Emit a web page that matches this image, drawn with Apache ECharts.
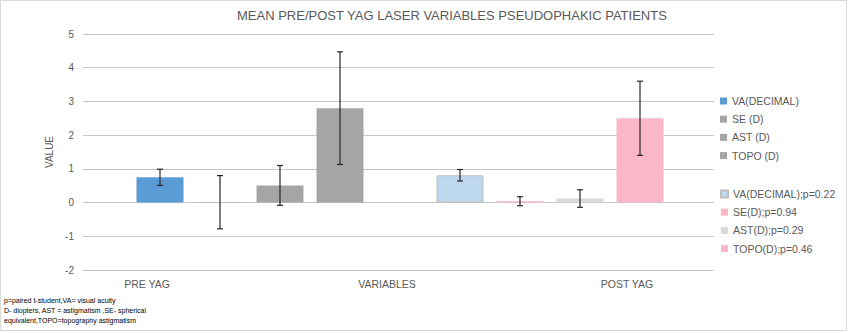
<!DOCTYPE html>
<html>
<head>
<meta charset="utf-8">
<script src="https://cdn.jsdelivr.net/npm/echarts@6/dist/echarts.min.js"></script>
<style>
html,body{margin:0;padding:0;background:#fff;}
#chart{width:849px;height:333px;}
</style>
</head>
<body>
<div id="chart"></div>
<script>
// ---- data ----
const titleText = 'MEAN PRE/POST YAG LASER VARIABLES PSEUDOPHAKIC PATIENTS';
const xCategories = ['PRE YAG', 'VARIABLES', 'POST YAG'];
const barSlots = ['VA pre', 'SE pre', 'AST pre', 'TOPO pre', '', 'VA post', 'SE post', 'AST post', 'TOPO post'];
const seriesNames = ['VA(DECIMAL)', 'SE (D)', 'AST (D)', 'TOPO (D)',
  'VA(DECIMAL);p=0.22', 'SE(D);p=0.94', 'AST(D);p=0.29', 'TOPO(D);p=0.46'];
const seriesSlot = ['VA pre', 'SE pre', 'AST pre', 'TOPO pre', 'VA post', 'SE post', 'AST post', 'TOPO post'];
const meanValues = [0.75, 0.01, 0.51, 2.80, 0.81, 0.04, 0.12, 2.50];
const errValues = [0.24, 0.79, 0.59, 1.67, 0.17, 0.135, 0.26, 1.10];
const yTicks = { min: -2, max: 5, interval: 1 };
const yName = 'VALUE';
const footnote = ['p=paired t-student,VA= visual acuity',
  'D- diopters, AST = astigmatism ,SE- spherical',
  'equivalent,TOPO=topography astigmatism'];

// ---- styles ----
const colors = ['#5B9BD5', '#A5A5A5', '#A5A5A5', '#A5A5A5', '#BDD7EE', '#F9B7C9', '#D9D9D9', '#F9B7C9'];
const borders = [null, null, null, null, '#BFBFBF', null, null, null];
const txt = '#595959';
const gridLine = '#C6C6C6';
const FONT = 'Liberation Sans, Arial, sans-serif';

const chart = echarts.init(document.getElementById('chart'), null, { renderer: 'svg' });

const gridTop = 34, gridBottom = 63;
const series = seriesNames.map((n, i) => ({
  name: n,
  type: 'bar',
  xAxisIndex: 1, yAxisIndex: 1,
  barWidth: 47,
  barGap: '-100%',
  itemStyle: borders[i] ? { color: colors[i], borderColor: borders[i], borderWidth: 1 } : { color: colors[i] },
  data: [[seriesSlot[i], meanValues[i]]],
  z: 2
}));

series.push({
  type: 'custom',
  name: 'err',
  xAxisIndex: 1, yAxisIndex: 1,
  data: meanValues.map((v, i) => [seriesSlot[i], v - errValues[i], v + errValues[i]]),
  renderItem: function (params, api) {
    const x = api.value(0);
    const lo = api.coord([x, api.value(1)]);
    const hi = api.coord([x, api.value(2)]);
    const hw = 3;
    const st = { stroke: '#262626', lineWidth: 1.2 };
    return {
      type: 'group',
      children: [
        { type: 'line', shape: { x1: hi[0], y1: hi[1], x2: lo[0], y2: lo[1] }, style: st },
        { type: 'line', shape: { x1: hi[0] - hw, y1: hi[1], x2: hi[0] + hw, y2: hi[1] }, style: st },
        { type: 'line', shape: { x1: lo[0] - hw, y1: lo[1], x2: lo[0] + hw, y2: lo[1] }, style: st }
      ]
    };
  },
  z: 5
});

const legendCommon = {
  orient: 'vertical',
  left: 715,
  icon: 'rect',
  itemWidth: 7,
  itemHeight: 7,
  itemGap: 6.2,
  selectedMode: false,
  textStyle: { color: txt, fontSize: 10.5, fontFamily: FONT, lineHeight: 12 }
};

const option = {
  animation: false,
  backgroundColor: '#fff',
  textStyle: { fontFamily: FONT },
  grid: [
    { left: 83, right: 135, top: gridTop, bottom: gridBottom },
    { left: 130, width: 540, top: gridTop, bottom: gridBottom },
    { left: 27, width: 720, top: gridTop, bottom: gridBottom }
  ],
  xAxis: [
    { gridIndex: 0, type: 'category', data: xCategories, show: false },
    { gridIndex: 1, type: 'category', data: barSlots, show: false },
    { gridIndex: 2, type: 'category', data: xCategories,
      axisLine: { show: false }, axisTick: { show: false },
      axisLabel: { color: txt, fontSize: 10.5, fontFamily: FONT, margin: 8 } }
  ],
  yAxis: [
    { gridIndex: 0, type: 'value', min: yTicks.min, max: yTicks.max, interval: yTicks.interval,
      name: yName, nameLocation: 'middle', nameGap: 28, nameRotate: 90,
      nameTextStyle: { color: txt, fontSize: 10, fontFamily: FONT },
      axisLine: { show: false }, axisTick: { show: false },
      axisLabel: { color: txt, fontSize: 10, fontFamily: FONT, margin: 9 },
      splitLine: { lineStyle: { color: gridLine, width: 1 } } },
    { gridIndex: 1, type: 'value', min: yTicks.min, max: yTicks.max, interval: yTicks.interval, show: false, splitLine: { show: false } },
    { gridIndex: 2, type: 'value', min: yTicks.min, max: yTicks.max, interval: yTicks.interval, show: false, splitLine: { show: false } }
  ],
  legend: [
    Object.assign({}, legendCommon, { top: 90, data: seriesNames.slice(0, 4) }),
    Object.assign({}, legendCommon, { top: 183, data: seriesNames.slice(4) })
  ],
  graphic: [
    { type: 'rect', shape: { x: 0.5, y: 0.5, width: 846, height: 330 }, style: { fill: 'none', stroke: '#D9D9D9', lineWidth: 1 }, z: -1 },
    { type: 'text', left: 237, top: 9, style: { text: titleText, fill: txt, font: '13px ' + FONT } },
    { type: 'text', left: 4, top: 295, style: { text: footnote.join('\n'), fill: '#000', font: '7px ' + FONT, lineHeight: 10 } }
  ],
  series: series
};
chart.setOption(option);
</script>
</body>
</html>
